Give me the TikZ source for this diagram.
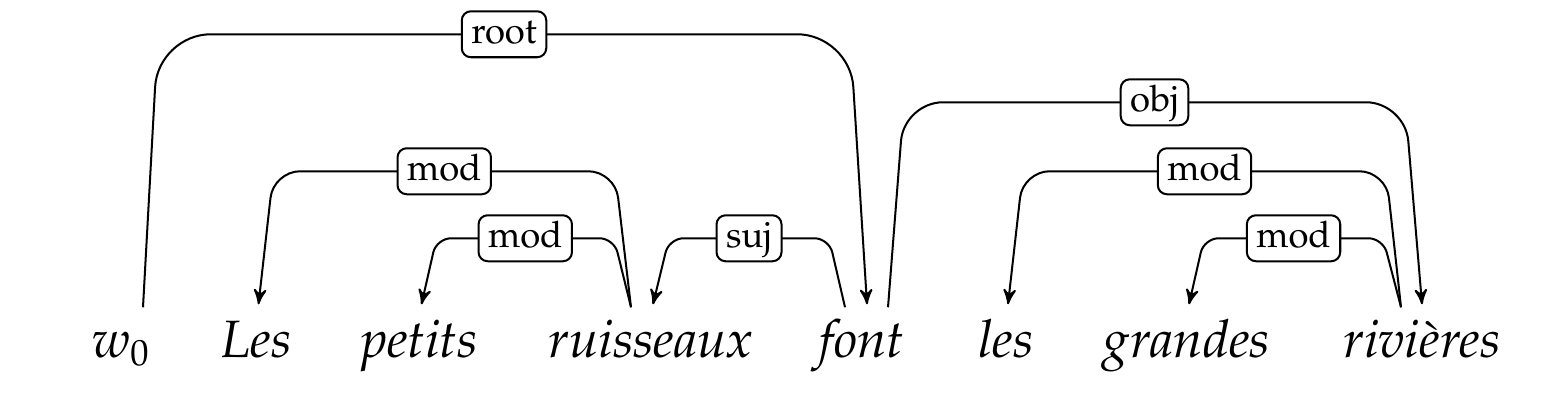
\documentclass[tikz,border=0pt]{standalone}
\usepackage[T1]{fontenc}
\usepackage{mathpazo}
\usepackage{tikz}
\usetikzlibrary{positioning,arrows}
\usetikzlibrary{calc}
\tikzset{
  word/.style = {anchor=base, inner sep=0pt, text height=13.7pt,
    text depth=4pt, font=\Large\itshape},
  dep_l/.style = {rectangle, draw=black, fill=white, rounded corners=2.5pt,
    line width=0.55pt, inner xsep=2.6pt, inner ysep=1.5pt,
    text height=7.2pt, text depth=2.4pt, font=\normalsize},% etiquette
  dep_e/.style = {->, >=stealth', line width=0.55pt}
}

\begin{document}
\begin{tikzpicture}[x=0.274pt, y=-0.274pt]
\useasboundingbox (0,0) rectangle (1546,404);
% phrase
\node [word] (w0) at (121,358) {$w_0$};
\node [word] (les1) at (256.5,358) {Les};
\node [word] (petits) at (419.5,358) {petits};
\node [word] (ruisseaux) at (651,358) {ruisseaux};
\node [word] (font) at (862,358) {font};
\node [word] (les2) at (1006,358) {les};
\node [word] (grandes) at (1187,358) {grandes};
\node [word] (rivieres) at (1422,358) {rivi\`eres};
% arcs
\draw [dep_e, rounded corners=14.5pt] ($(w0.north)+(22,0)$) -- ++(15,-273)
  -- node [dep_l] {root} ($(font.north)+(-12,-273)$) -- ($(font.north)+(5,-3)$);
\draw [dep_e, rounded corners=7.3pt] ($(ruisseaux.north)+(-20,0)$) -- ++(-16,-136)
  -- node [dep_l] {mod} ($(les1.north)+(17,-136)$) -- ($(les1.north)+(2,-3)$);
\draw [dep_e, rounded corners=4pt] ($(ruisseaux.north)+(-20,0)$) -- ++(-17,-69)
  -- node [dep_l] {mod} ($(petits.north)+(17,-69)$) -- ($(petits.north)+(2,-3)$);
\draw [dep_e, rounded corners=4pt] ($(font.north)+(-17,0)$) -- ++(-16,-69)
  -- node [dep_l] {suj} ($(ruisseaux.north)+(18,-69)$) -- ($(ruisseaux.north)+(2,-3)$);
\draw [dep_e, rounded corners=10.7pt] ($(font.north)+(26,0)$) -- ++(16,-205)
  -- node [dep_l] {obj} ($(rivieres.north)+(-17,-205)$) -- ($(rivieres.north)+(0,-3)$);
\draw [dep_e, rounded corners=7.3pt] ($(rivieres.north)+(-21,0)$) -- ++(-15,-136)
  -- node [dep_l] {mod} ($(les2.north)+(17,-136)$) -- ($(les2.north)+(2,-3)$);
\draw [dep_e, rounded corners=4pt] ($(rivieres.north)+(-21,0)$) -- ++(-18,-69)
  -- node [dep_l] {mod} ($(grandes.north)+(17,-69)$) -- ($(grandes.north)+(2,-3)$);
\end{tikzpicture}
\end{document}
